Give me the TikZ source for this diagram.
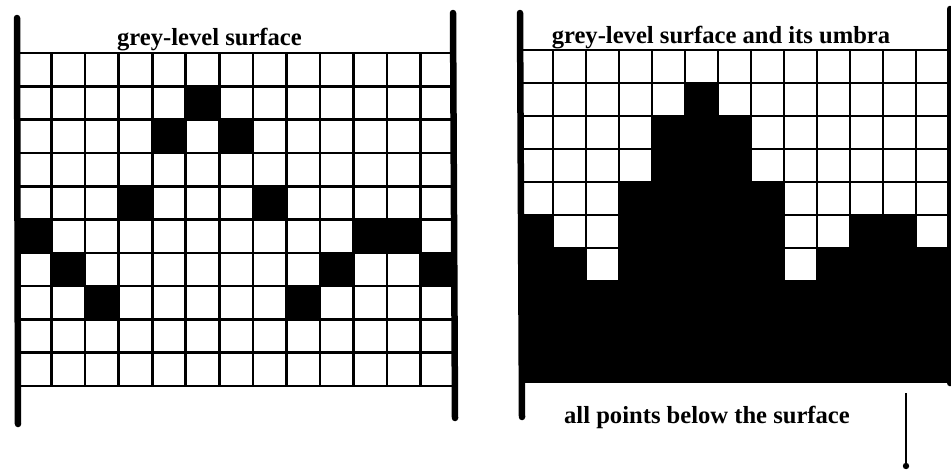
\documentclass[tikz,border=0pt]{standalone}
\usepackage{fontspec}
\setmainfont{Liberation Serif}
\begin{document}
\begin{tikzpicture}[x=1pt,y=-1pt,
  gridline/.style={line width=2.6pt},
  bar/.style={line width=6.5pt, line cap=round},
  thinline/.style={line width=1.6pt},
  title/.style={font=\fontsize{24.6}{26}\selectfont\bfseries, anchor=base, inner sep=0pt}]
\useasboundingbox (0,0) rectangle (951,472);
% ---------- left panel: grey-level surface ----------
\def\lx{18}\def\lw{33.55}\def\ly{53}\def\lh{33.3}
\foreach \i/\h in {0/5,1/6,2/7,3/4,4/2,5/1,6/2,7/4,8/7,9/6,10/5,11/5,12/6}
  \fill (\lx+\i*\lw, \ly+\h*\lh) rectangle ++(\lw,\lh);
\foreach \i in {0,...,13}
  \draw[gridline] (\lx+\i*\lw, \ly) -- (\lx+\i*\lw, \ly+10*\lh);
\foreach \j in {0,...,10}
  \draw[gridline] (\lx, \ly+\j*\lh) -- (\lx+13*\lw, \ly+\j*\lh);
\draw[bar] (17,18) -- (18,424);
\draw[bar] (453,13) -- (455,418);
\node[title] (t1) at (209.5,45) {grey-level surface};
% ---------- right panel: surface and umbra ----------
\def\rx{520}\def\rw{33}\def\ry{50}\def\rh{33}
\foreach \i in {0,...,13}
  \draw[gridline] (\rx+\i*\rw, \ry) -- (\rx+\i*\rw, \ry+10*\rh);
\foreach \j in {0,...,10}
  \draw[gridline] (\rx, \ry+\j*\rh) -- (\rx+13*\rw, \ry+\j*\rh);
\foreach \i/\h in {0/5,1/6,2/7,3/4,4/2,5/1,6/2,7/4,8/7,9/6,10/5,11/5,12/6}
  \fill (\rx+\i*\rw, \ry+\h*\rh) rectangle (\rx+\i*\rw+\rw+0.4, 383);
\draw[bar] (520,13) -- (522,417);
\draw[bar] (950,9) -- (950,383);
\node[title] (t2) at (721,43) {grey-level surface and its umbra};
\node[title] (t3) at (707,423) {all points below the surface};
% pointer line with dot
\coordinate (pt) at (906,393);
\coordinate (pb) at (906,466);
\draw[thinline] (pt) -- (pb);
\fill (pb) circle (3.2);
\end{tikzpicture}
\end{document}
